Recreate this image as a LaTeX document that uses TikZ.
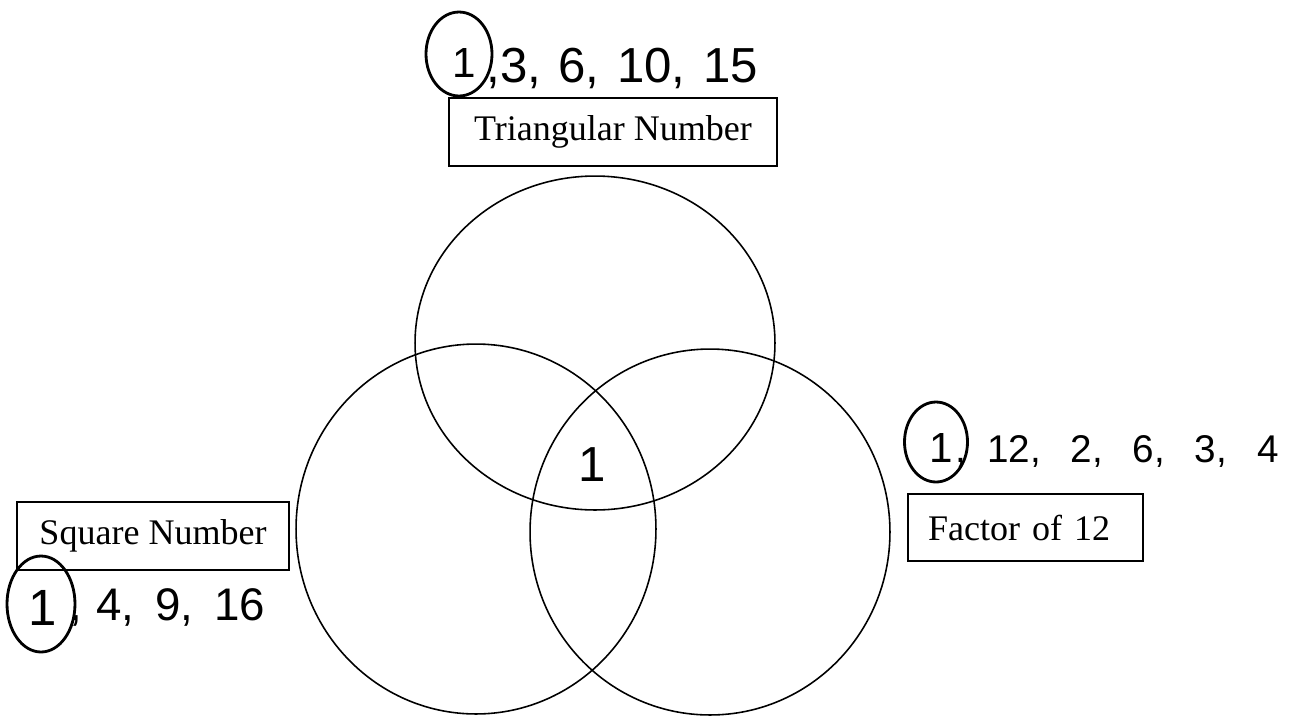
\documentclass[tikz,border=0pt]{standalone}
\usepackage{fontspec}
\setmainfont{Liberation Serif}
\newfontfamily\hand{Liberation Sans}
\usetikzlibrary{shapes.geometric}

\begin{document}
\begin{tikzpicture}[x=0.02cm, y=-0.02cm,
    etichetta/.style={draw, line width=0.9pt, inner sep=0pt, font=\fontsize{20.5}{24}\selectfont},
    cerchiato/.style={draw, ellipse, line width=1.6pt, inner sep=0pt, text depth=0pt, font=\hand\fontsize{24}{28}\selectfont},
    scritto/.style={anchor=base west, inner sep=0pt, font=\hand\fontsize{#1}{30}\selectfont}]

        % Area del disegno (stesse proporzioni dell'originale)
        \useasboundingbox (0,0) rectangle (1292,718);

        % Insiemi: le tre ellissi
        \draw[line width=0.9pt] (595,343) ellipse [x radius=3.6cm, y radius=3.34cm];
        \draw[line width=0.9pt] (476,529) ellipse [x radius=3.6cm, y radius=3.7cm];
        \draw[line width=0.9pt] (710,532) ellipse [x radius=3.6cm, y radius=3.66cm];

        % Etichette degli insiemi
        \node[etichetta, minimum width=6.56cm, minimum height=1.36cm] (triang) at (613,132) {Triangular Number};
        \node[etichetta, minimum width=5.44cm, minimum height=1.36cm] (quadr) at (153,536) {Square Number};
        \node[etichetta, text width=3.9cm, inner xsep=0.4cm, minimum height=1.34cm, align=left] (fatt) at (1025.5,527.5) {Factor of 12};

        % Numeri scritti a mano (in alto)
        \node[cerchiato, minimum width=1.32cm, minimum height=1.68cm, text height=27pt] (uno-t) at (459,54) {\hspace{6pt}1};
        \node[scritto=28] (lista-t) at (486,82) {,3,\hspace{10pt}6,\hspace{10pt}10,\hspace{10pt}15};

        % Numeri scritti a mano (a sinistra)
        \node[cerchiato, minimum width=1.36cm, minimum height=1.92cm, text height=25pt, font=\hand\fontsize{29}{30}\selectfont] (uno-q) at (41,604) {\hspace{2pt}1};
        \node[scritto=26] (lista-q) at (69,620) {,\hspace{8pt}4,\hspace{12pt}9,\hspace{12pt}16};

        % Numeri scritti a mano (a destra)
        \node[cerchiato, minimum width=1.26cm, minimum height=1.6cm, text height=23pt] (uno-f) at (936,442) {\hspace{6pt}1};
        \node[scritto=22] (lista-f) at (955,462) {,\hspace{12pt}12,\hspace{17pt}2,\hspace{17pt}6,\hspace{17pt}3,\hspace{17pt}4};

        % Elemento comune ai tre insiemi
        \node[scritto=28, anchor=center] (centro) at (592,465) {1};

    \end{tikzpicture}
\end{document}
